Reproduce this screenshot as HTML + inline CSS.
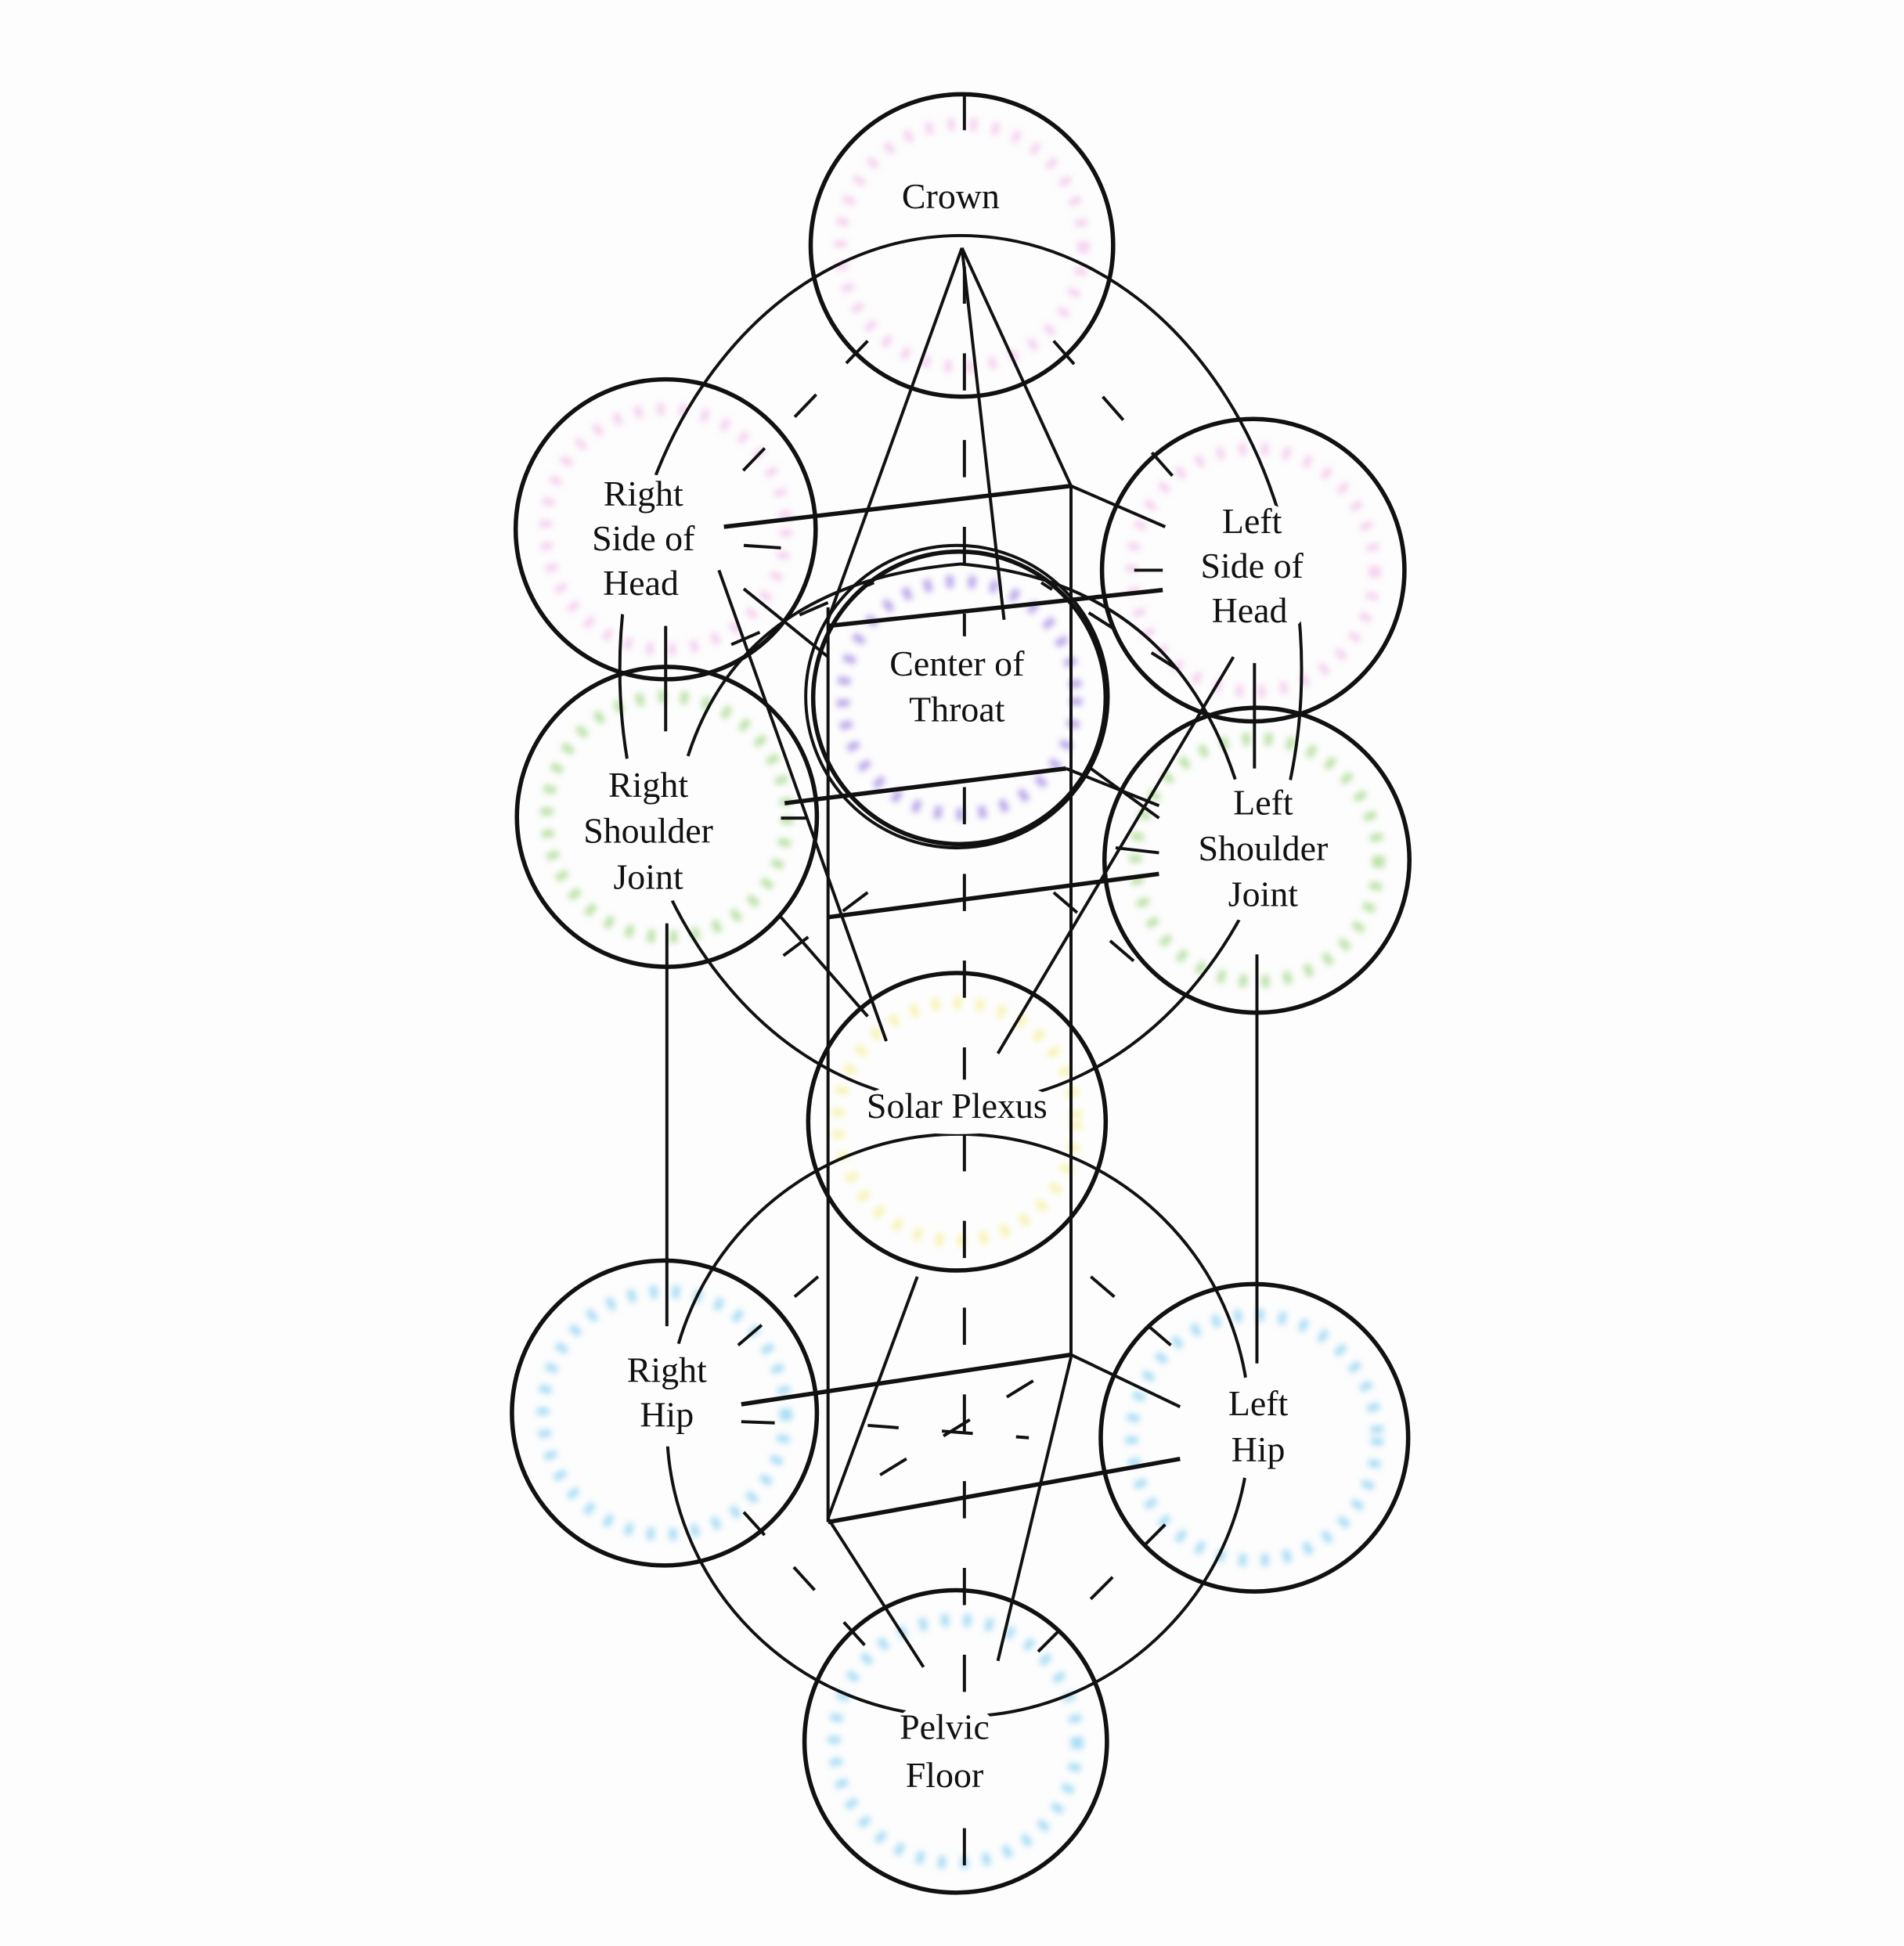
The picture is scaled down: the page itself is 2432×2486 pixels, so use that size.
<!DOCTYPE html>
<html><head><meta charset="utf-8"><style>
html,body{margin:0;padding:0;background:#fdfdfd;}
svg{display:block;}
text{font-family:"Liberation Serif",serif;font-size:29px;fill:#111;text-anchor:middle;}
</style></head><body>
<svg width="2432" height="2486" viewBox="0 0 1536 1570" xmlns="http://www.w3.org/2000/svg">
<defs><filter id="b"><feGaussianBlur stdDeviation="2.5"/></filter></defs>
<g fill="none" stroke-width="10" stroke-dasharray="6,12" filter="url(#b)" opacity="0.75">
<circle cx="776" cy="198" r="98" stroke="#f2c6ea"/>
<circle cx="537" cy="427" r="97" stroke="#f2c6ea"/>
<circle cx="1011" cy="460" r="98" stroke="#f2c6ea"/>
<circle cx="774" cy="563" r="94" stroke="#a58be3"/>
<circle cx="538" cy="659" r="97" stroke="#a5d88a"/>
<circle cx="1014" cy="694" r="98" stroke="#a5d88a"/>
<circle cx="772" cy="905" r="96" stroke="#f5f09a"/>
<circle cx="536" cy="1140" r="98" stroke="#8ed2f2"/>
<circle cx="1012" cy="1160" r="99" stroke="#8ed2f2"/>
<circle cx="771" cy="1405" r="98" stroke="#8ed2f2"/>
</g>
<g fill="none" stroke="#111" stroke-width="2.5">
<ellipse cx="775" cy="540" rx="275" ry="350"/>
<circle cx="773" cy="1150" r="235"/>
<circle cx="772" cy="562" r="122"/>
<path d="M555 610 Q600 470 775 455 Q950 470 1000 640"/>
<line x1="778" y1="75" x2="778" y2="1545" stroke-dasharray="30,40"/>
<line x1="668" y1="490" x2="668" y2="1228"/>
<line x1="864" y1="392" x2="864" y2="1095"/>
<line x1="584" y1="425" x2="864" y2="392" stroke-width="3.5"/>
<line x1="864" y1="392" x2="940" y2="425"/>
<line x1="668" y1="505" x2="938" y2="476" stroke-width="3.5"/>
<line x1="633" y1="648" x2="860" y2="620" stroke-width="3.5"/>
<line x1="860" y1="620" x2="935" y2="650"/>
<line x1="668" y1="740" x2="935" y2="705" stroke-width="3.5"/>
<line x1="598" y1="1133" x2="864" y2="1093" stroke-width="3.5"/>
<line x1="864" y1="1093" x2="952" y2="1135"/>
<line x1="668" y1="1228" x2="952" y2="1177" stroke-width="3.5"/>
<line x1="776" y1="200" x2="668" y2="500"/>
<line x1="776" y1="200" x2="864" y2="392"/>
<line x1="776" y1="200" x2="810" y2="500"/>
<line x1="580" y1="460" x2="715" y2="840"/>
<line x1="995" y1="530" x2="805" y2="850"/>
<line x1="537" y1="505" x2="537" y2="590"/>
<line x1="1012" y1="535" x2="1012" y2="620"/>
<line x1="538" y1="745" x2="538" y2="1070"/>
<line x1="1014" y1="770" x2="1014" y2="1100"/>
<line x1="668" y1="1225" x2="745" y2="1345"/>
<line x1="805" y1="1340" x2="864" y2="1095"/>
<line x1="740" y1="1030" x2="668" y2="1225"/>
<line x1="630" y1="740" x2="700" y2="820"/>
<line x1="600" y1="475" x2="668" y2="530"/>
<line x1="880" y1="620" x2="935" y2="660"/>
<line x1="600" y1="440" x2="630" y2="442"/>
<line x1="915" y1="460" x2="938" y2="460"/>
<line x1="630" y1="660" x2="650" y2="660"/>
<line x1="900" y1="684" x2="935" y2="688"/>
<line x1="598" y1="1147" x2="625" y2="1148"/>
<g stroke-dasharray="25,35">
<line x1="700" y1="275" x2="580" y2="400"/>
<line x1="850" y1="275" x2="960" y2="400"/>
<line x1="590" y1="520" x2="705" y2="470"/>
<line x1="950" y1="540" x2="840" y2="470"/>
<line x1="700" y1="720" x2="620" y2="780"/>
<line x1="850" y1="720" x2="920" y2="780"/>
<line x1="660" y1="1030" x2="590" y2="1090"/>
<line x1="880" y1="1030" x2="950" y2="1090"/>
<line x1="600" y1="1220" x2="700" y2="1330"/>
<line x1="940" y1="1230" x2="830" y2="1340"/>
<line x1="700" y1="1150" x2="830" y2="1160"/>
<line x1="710" y1="1190" x2="840" y2="1110"/>
</g>
</g>
<g fill="#fdfdfd">
<ellipse cx="767" cy="158" rx="52" ry="25"/>
<ellipse cx="518" cy="440" rx="55" ry="58"/>
<ellipse cx="1009" cy="462" rx="55" ry="58"/>
<ellipse cx="771" cy="555" rx="62" ry="42"/>
<ellipse cx="522" cy="670" rx="62" ry="60"/>
<ellipse cx="1018" cy="685" rx="62" ry="60"/>
<ellipse cx="772" cy="893" rx="82" ry="22"/>
<ellipse cx="538" cy="1125" rx="42" ry="42"/>
<ellipse cx="1014" cy="1152" rx="36" ry="42"/>
<ellipse cx="762" cy="1412" rx="48" ry="42"/>
</g>
<g fill="none" stroke="#111" stroke-width="3.5">
<circle cx="776" cy="198" r="122"/>
<circle cx="537" cy="427" r="121"/>
<circle cx="1011" cy="460" r="122"/>
<circle cx="774" cy="563" r="118"/>
<circle cx="538" cy="659" r="121"/>
<circle cx="1014" cy="694" r="123"/>
<circle cx="772" cy="905" r="120"/>
<circle cx="536" cy="1140" r="123"/>
<circle cx="1012" cy="1160" r="124"/>
<circle cx="771" cy="1405" r="122"/>
</g>
<text x="767" y="168">Crown</text>
<text x="519" y="408">Right</text><text x="519" y="444">Side of</text><text x="517" y="480">Head</text>
<text x="1010" y="430">Left</text><text x="1010" y="466">Side of</text><text x="1008" y="502">Head</text>
<text x="772" y="545">Center of</text><text x="772" y="582">Throat</text>
<text x="523" y="643">Right</text><text x="523" y="680">Shoulder</text><text x="523" y="717">Joint</text>
<text x="1019" y="657">Left</text><text x="1019" y="694">Shoulder</text><text x="1019" y="731">Joint</text>
<text x="772" y="902">Solar Plexus</text>
<text x="538" y="1115">Right</text><text x="538" y="1151">Hip</text>
<text x="1015" y="1142">Left</text><text x="1015" y="1179">Hip</text>
<text x="762" y="1403">Pelvic</text><text x="762" y="1442">Floor</text>
</svg>
</body></html>
